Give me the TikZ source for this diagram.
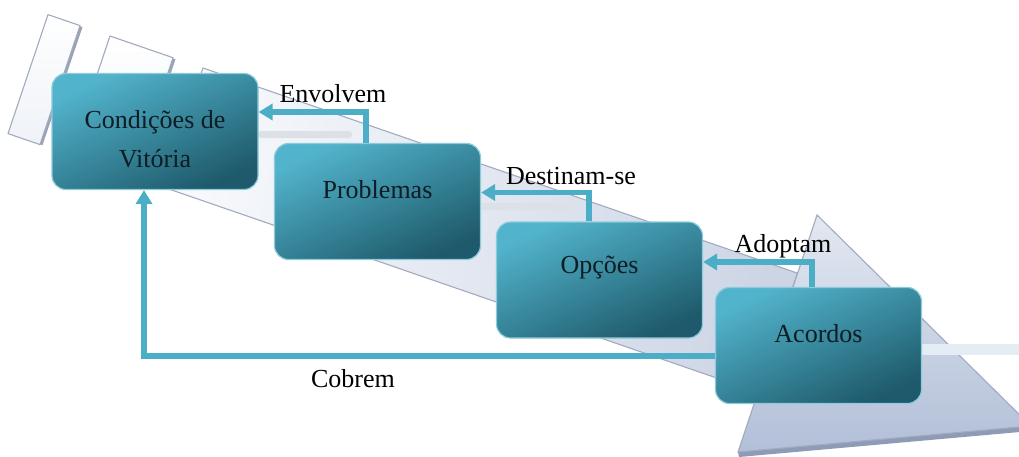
\documentclass[tikz,border=0pt]{standalone}
\usepackage{fontspec}
\setmainfont{Liberation Serif}
\usetikzlibrary{arrows.meta}

\definecolor{boxtop}{HTML}{52B4CC}
\definecolor{boxbot}{HTML}{1E5A6B}
\definecolor{boxedge}{HTML}{8CCBDB}
\definecolor{flowc}{HTML}{4BADC6}
\definecolor{ink}{HTML}{0E1C24}
\definecolor{bandL}{HTML}{F7F9FC}
\definecolor{bandR}{HTML}{CDD5E5}
\definecolor{bandedge}{HTML}{A2AABE}
\definecolor{headT}{HTML}{E3E8F1}
\definecolor{headB}{HTML}{B2BFD8}
\definecolor{headrim}{HTML}{8E9BB7}
\definecolor{slabshadow}{HTML}{9AA2B6}
\definecolor{stripec}{HTML}{DCE1E8}
\definecolor{glint}{HTML}{E4EDF3}

\tikzset{
  stage/.style={rounded corners=14pt, minimum width=206pt, minimum height=116pt,
    inner sep=0pt, align=center, text=ink,
    font=\fontsize{26}{39}\selectfont,
    draw=boxedge, line width=1.2pt,
    top color=boxtop, bottom color=boxbot, shading angle=25},
  flow/.style={draw=flowc, line width=5.5pt,
    -{Triangle[length=14pt,width=16pt]}},
  lbl/.style={font=\fontsize{26}{30}\selectfont, text=black, inner sep=0pt, anchor=base},
  slab/.style={draw=bandedge, line width=1.1pt, top color=white, bottom color=bandL!80!bandR,
    line join=round},
}

\begin{document}
\begin{tikzpicture}[x=1pt, y=-1pt]
  \useasboundingbox (0,0) rectangle (1019,456);
  \clip (0,0) rectangle (1019,456);
  \fill[white] (0,0) rectangle (1019,456);

  % segmented tail of the background arrow
  \fill[slabshadow] (50.5,16.1) -- (82.5,27.1) -- (42.5,145.1) -- (10.5,134.1) -- cycle;
  \path[slab] (48,14.6) -- (80,25.6) -- (40,144.6) -- (8,133.6) -- cycle;
  \fill[slabshadow] (112.5,37.5) -- (175.5,59.2) -- (135.5,178.2) -- (72.5,156.5) -- cycle;
  \path[slab] (110,36) -- (173,57.7) -- (133,176.7) -- (70,155) -- cycle;

  % shaft of the background arrow
  \path[draw=bandedge, line width=1.1pt, left color=bandL, right color=bandR, shading angle=80]
    (203,68) -- (797.4,273.1) -- (757.2,392) -- (163,187) -- cycle;

  % head of the background arrow
  \fill[headrim] (738,452) -- (1031,426) -- (1031,431) -- (739,457) -- cycle;
  \path[draw=bandedge, line width=1.1pt, top color=headT, bottom color=headB]
    (817,215) -- (1031,426) -- (738,452) -- cycle;

  % soft reflections beside the boxes
  \fill[stripec, rounded corners=3pt] (258,131) rectangle (352,138);
  \fill[stripec, rounded corners=3pt] (480,203) rectangle (574,210);
  \fill[glint] (920,344) rectangle (1019,355);

  % stages
  \node[stage, text height=80pt, text depth=9pt] (c1) at (155,131.5) {Condições de\\Vitória};
  \node[stage, text height=17pt, text depth=24pt] (c2) at (377.5,201.5) {Problemas};
  \node[stage, text height=17pt, text depth=31pt] (c3) at (599.5,280) {Opções};
  \node[stage, text height=17pt, text depth=24pt] (c4) at (818.5,345.5) {Acordos};

  % relations between stages
  \draw[flow] ([xshift=-11.5pt]c2.north) |- ([yshift=19.5pt]c1.east);
  \draw[flow] ([xshift=-10.5pt]c3.north) |- ([yshift=9pt]c2.east);
  \draw[flow] ([xshift=-6.5pt]c4.north) |- ([yshift=18pt]c3.east);
  \draw[flow] ([yshift=-10.5pt]c4.west) -| ([xshift=-11pt]c1.south);

  \node[lbl] (l1) at (333,102) {Envolvem};
  \node[lbl] (l2) at (571,184) {Destinam-se};
  \node[lbl] (l3) at (783,252) {Adoptam};
  \node[lbl] (l4) at (353,387) {Cobrem};
\end{tikzpicture}
\end{document}
